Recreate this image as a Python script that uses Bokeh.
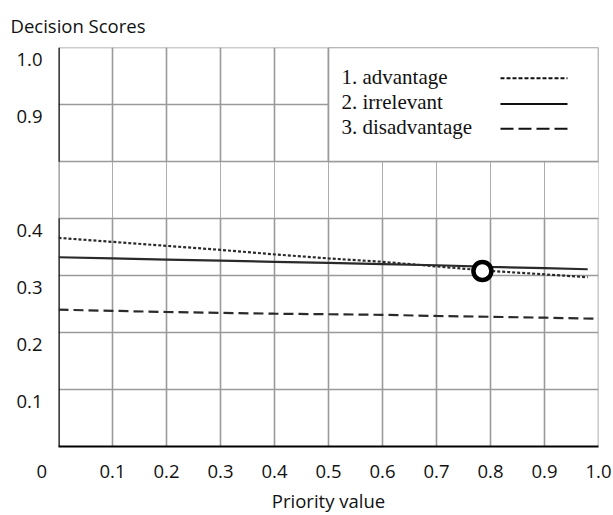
from bokeh.plotting import figure
from bokeh.models import Range1d, FixedTicker, Label
from bokeh.embed import file_html
from bokeh.resources import INLINE

# ---------------- data ----------------
priority = [0.0, 0.1, 0.2, 0.3, 0.4, 0.5, 0.6, 0.7, 0.8, 0.9, 0.98]
priority_dis = [0.0, 0.1, 0.2, 0.3, 0.4, 0.5, 0.6, 0.7, 0.8, 0.9, 1.0]
advantage = [0.366, 0.359, 0.352, 0.345, 0.337, 0.330, 0.324, 0.316, 0.308, 0.302, 0.297]
irrelevant = [0.332, 0.330, 0.328, 0.326, 0.324, 0.322, 0.320, 0.318, 0.315, 0.313, 0.311]
disadvantage = [0.240, 0.238, 0.236, 0.2345, 0.233, 0.232, 0.231, 0.229, 0.2276, 0.226, 0.224]
marked_x = [0.785]
marked_y = [0.308]
series_names = ["1. advantage", "2. irrelevant", "3. disadvantage"]

x_ticks = [0.0, 0.1, 0.2, 0.3, 0.4, 0.5, 0.6, 0.7, 0.8, 0.9, 1.0]
x_tick_labels = ["0", "0.1", "0.2", "0.3", "0.4", "0.5", "0.6", "0.7", "0.8", "0.9", "1.0"]
y_tick_values = [0.1, 0.2, 0.3, 0.4, 0.9, 1.0]
y_tick_labels = ["0.1", "0.2", "0.3", "0.4", "0.9", "1.0"]
y_grid_values = [0.1, 0.2, 0.3, 0.4, 0.8, 0.9, 1.0]

# broken y axis: 0..0.4 shown as is, a 0.1-tall break, then 0.8..1.0
LOW_MAX = 0.4
HIGH_MIN = 0.8
GAP = 0.1


def disp(v):
    return round(v if v <= LOW_MAX else v - (HIGH_MIN - LOW_MAX - GAP), 6)


FRAME_H = 403
PX_PER_UNIT = FRAME_H / disp(1.0)
LABEL_DROP = round(12 / PX_PER_UNIT, 6)   # y labels sit a little below their grid line

GRID = "#9a9a9a"
SANS = "Open Sans"
SERIF = "Liberation Serif"
INK = "#111111"

p = figure(width=613, height=515, output_backend="svg", toolbar_location=None,
           x_range=Range1d(0, 1), y_range=Range1d(0, disp(1.0)),
           min_border_left=58, min_border_right=15, min_border_top=46, min_border_bottom=66)
p.outline_line_color = None
p.xgrid.visible = False
p.ygrid.visible = False

p.title.text = "Decision Scores"
p.title.align = "left"
p.title.offset = -48
p.title.standoff = 20
p.title.text_font = SANS
p.title.text_font_size = "18.5px"
p.title.text_font_style = "normal"
p.title.text_color = INK

# x axis
p.xaxis.ticker = FixedTicker(ticks=x_ticks)
overrides = {t: l for t, l in zip(x_ticks, x_tick_labels)}
overrides[0.0] = "0" + "\u00a0" * 7   # corner "0" sits left of the origin
p.xaxis.major_label_overrides = overrides
p.xaxis.axis_line_color = "black"
p.xaxis.axis_line_width = 2
p.xaxis.major_tick_line_color = None
p.xaxis.minor_tick_line_color = None
p.xaxis.major_label_standoff = 5
p.xaxis.major_label_text_font = SANS
p.xaxis.major_label_text_font_size = "18.5px"
p.xaxis.major_label_text_color = INK
p.xaxis.axis_label = "Priority value"
p.xaxis.axis_label_standoff = 2
p.xaxis.axis_label_text_font = SANS
p.xaxis.axis_label_text_font_size = "18.5px"
p.xaxis.axis_label_text_font_style = "normal"
p.xaxis.axis_label_text_color = INK

# y axis
y_label_pos = [round(disp(v) - LABEL_DROP, 6) for v in y_tick_values]
p.yaxis.ticker = FixedTicker(ticks=y_label_pos)
p.yaxis.major_label_overrides = {t: l for t, l in zip(y_label_pos, y_tick_labels)}
p.yaxis.axis_line_color = None
p.yaxis.major_tick_line_color = None
p.yaxis.minor_tick_line_color = None
p.yaxis.major_label_standoff = 10
p.yaxis.major_label_text_font = SANS
p.yaxis.major_label_text_font_size = "18.5px"
p.yaxis.major_label_text_color = INK

# grid: solid in both panels, dotted through the break
vx = x_ticks[1:]
n = len(vx)
p.segment(x0=vx, y0=[0] * n, x1=vx, y1=[disp(LOW_MAX)] * n,
          line_color=GRID, line_width=1.6)
p.segment(x0=vx, y0=[disp(HIGH_MIN)] * n, x1=vx, y1=[disp(1.0)] * n,
          line_color=GRID, line_width=1.6)
p.segment(x0=vx, y0=[disp(LOW_MAX)] * n, x1=vx, y1=[disp(HIGH_MIN)] * n,
          line_color="#5a5a5a", line_width=1, line_dash="1 1")
p.segment(x0=[0.0], y0=[disp(LOW_MAX)], x1=[0.0], y1=[disp(HIGH_MIN)],
          line_color="#222222", line_width=2.5, line_dash="1 1")
hg = [disp(v) for v in y_grid_values]
p.segment(x0=[0] * len(hg), y0=hg, x1=[1] * len(hg), y1=hg, line_color=GRID, line_width=1.6)
# left axis line (two panels)
p.segment(x0=[0, 0], y0=[0, disp(HIGH_MIN)], x1=[0, 0], y1=[disp(LOW_MAX), disp(1.0)],
          line_color="black", line_width=2.5)

# curves
p.line(priority, advantage, line_color="#2a2a2a", line_width=2.2, line_dash="3 2")
p.line(priority, irrelevant, line_color="#2a2a2a", line_width=2.2)
p.line(priority_dis, disadvantage, line_color="#2a2a2a", line_width=2.2, line_dash="10 5")
p.scatter(marked_x, marked_y, size=18, marker="circle", fill_color="white",
          line_color="black", line_width=4.5)

# legend box (label first, then line sample)
p.quad(left=[0.5], right=[1.0], bottom=[disp(HIGH_MIN)], top=[disp(1.0)],
       fill_color="white", line_color=GRID, line_width=1.6)
leg_y = [0.649, 0.604, 0.5606]
dashes = ["4 2", "solid", "13 5"]
for name, yy, dsh in zip(series_names, leg_y, dashes):
    p.add_layout(Label(x=0.524, y=yy, text=name, text_font=SERIF, text_font_size="21px",
                       text_baseline="middle", text_align="left", text_color=INK))
    p.line([0.8185, 0.9426], [yy - 0.003, yy - 0.003], line_color=INK, line_width=2,
           line_dash=dsh)

open("out.html", "w").write(file_html(p, INLINE))
